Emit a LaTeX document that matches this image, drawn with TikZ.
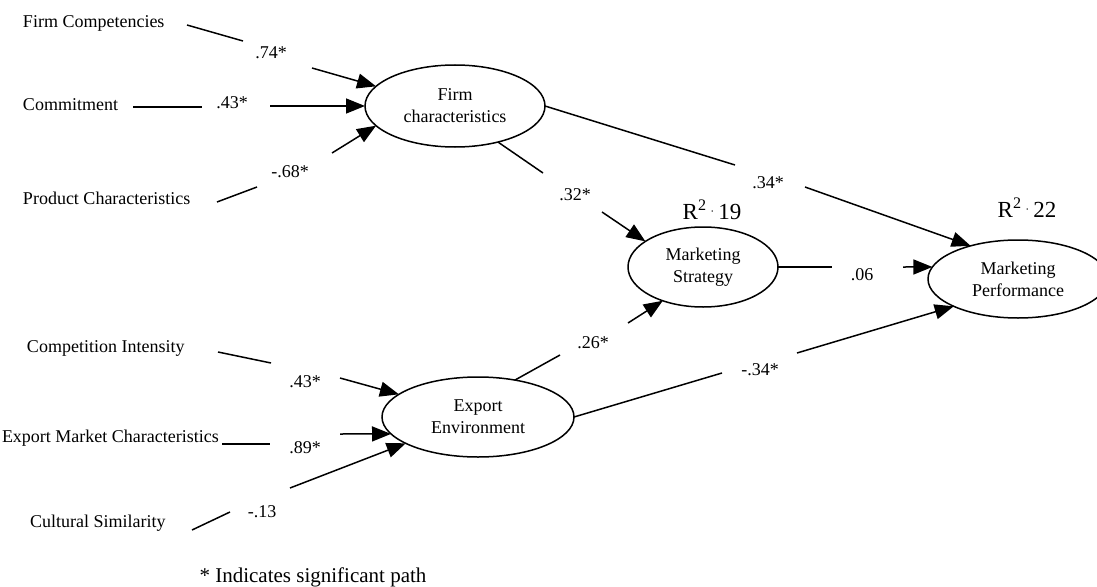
\documentclass[tikz,border=0pt]{standalone}
\usepackage{fontspec}
\setmainfont{Liberation Serif}
\usetikzlibrary{shapes.geometric,arrows.meta}
\begin{document}
\begin{tikzpicture}[x=1pt,y=-1pt,
  every node/.style={inner sep=0pt,outer sep=0pt},
  txt/.style={font=\fontsize{18}{22}\selectfont},
  lab/.style={font=\fontsize{18}{22}\selectfont},
  rsq/.style={font=\fontsize{23}{26}\selectfont},
  note/.style={font=\fontsize{21}{24}\selectfont},
  latent/.style={ellipse,draw,line width=1.5pt,align=center,font=\fontsize{18}{22}\selectfont,inner sep=0pt},
  seg/.style={line width=1.5pt},
  arr/.style={line width=1.5pt,-{Triangle[length=19pt,width=15pt]}}]
\useasboundingbox (0,0) rectangle (1097,586);

% latent constructs
\node[latent,minimum width=180pt,minimum height=82pt] (fchar) at (455,106) {Firm\\characteristics};
\node[latent,minimum width=150pt,minimum height=80pt] (mstrat) at (703,267) {Marketing\\Strategy};
\node[latent,minimum width=180pt,minimum height=78pt] (mperf) at (1018,279) {Marketing\\Performance};
\node[latent,minimum width=192pt,minimum height=80pt] (expenv) at (478,417) {Export\\Environment};

% indicators
\node[txt,anchor=west] (fc) at (23,23) {Firm Competencies};
\node[txt,anchor=west] (cm) at (23,105) {Commitment};
\node[txt,anchor=west] (pc) at (23,198) {Product Characteristics};
\node[txt,anchor=west] (ci) at (27,348) {Competition Intensity};
\node[txt,anchor=west] (emc) at (2,438) {Export Market Characteristics};
\node[txt,anchor=west] (cs) at (30,523) {Cultural Similarity};

% path coefficients
\node[lab] (l1) at (271,53) {.74*};
\node[lab] (l2) at (232,103) {.43*};
\node[lab] (l3) at (290,172) {-.68*};
\node[lab] (l4) at (575,195) {.32*};
\node[lab] (l5) at (768,183) {.34*};
\node[lab] (l6) at (862,275) {.06};
\node[lab] (l7) at (593,343) {.26*};
\node[lab] (l8) at (760,370) {-.34*};
\node[lab] (l9) at (305,382) {.43*};
\node[lab] (l10) at (305,448) {.89*};
\node[lab] (l11) at (262,512) {-.13};

% R squared
\node[rsq] (r1) at (712,210) {R\textsuperscript{2}\,\raisebox{4pt}{\fontsize{12}{12}\selectfont·}\,19};
\node[rsq] (r2) at (1027,208) {R\textsuperscript{2}\,\raisebox{4pt}{\fontsize{12}{12}\selectfont·}\,22};

% note
\node[note] (nt) at (313,577) {* Indicates significant path};

% connector break points
\coordinate (a1) at (187,25);  \coordinate (b1) at (243,41);  \coordinate (c1) at (312,68);
\coordinate (a2) at (133,107); \coordinate (b2) at (202,107); \coordinate (c2) at (270,106);
\coordinate (a3) at (217,202); \coordinate (b3) at (257,187); \coordinate (c3) at (332,153);
\coordinate (b4) at (543,173); \coordinate (c4) at (602,212);
\coordinate (b5) at (735,165); \coordinate (c5) at (805,187);
\coordinate (b6) at (832,267); \coordinate (c6) at (903,267);
\coordinate (b7) at (560,355); \coordinate (c7) at (628,323);
\coordinate (b8) at (722,373); \coordinate (c8) at (797,353);
\coordinate (a9) at (218,352); \coordinate (b9) at (271,363); \coordinate (c9) at (340,378);
\coordinate (a10) at (222,444); \coordinate (b10) at (270,444); \coordinate (c10) at (340,434);
\coordinate (a11) at (192,530); \coordinate (b11) at (230,512); \coordinate (c11) at (290,488);

% connectors
\draw[seg] (a1) -- (b1);  \draw[arr] (c1) -- (fchar.166);
\draw[seg] (a2) -- (b2);  \draw[arr] (c2) -- (fchar.180);
\draw[seg] (a3) -- (b3);  \draw[arr] (c3) -- (fchar.194);
\draw[seg] (fchar.320) -- (b4); \draw[arr] (c4) -- (mstrat.156);
\draw[seg] (fchar.0) -- (b5);   \draw[arr] (c5) -- (mperf.145);
\draw[seg] (mstrat.0) -- (b6);  \draw[arr] (c6) -- (mperf.172);
\draw[seg] (expenv.45) -- (b7); \draw[arr] (c7) -- (mstrat.220);
\draw[seg] (expenv.0) -- (b8);  \draw[arr] (c8) -- (mperf.203);
\draw[seg] (a9) -- (b9);   \draw[arr] (c9) -- (expenv.164);
\draw[seg] (a10) -- (b10); \draw[arr] (c10) -- (expenv.191);
\draw[seg] (a11) -- (b11); \draw[arr] (c11) -- (expenv.200);
\end{tikzpicture}
\end{document}
